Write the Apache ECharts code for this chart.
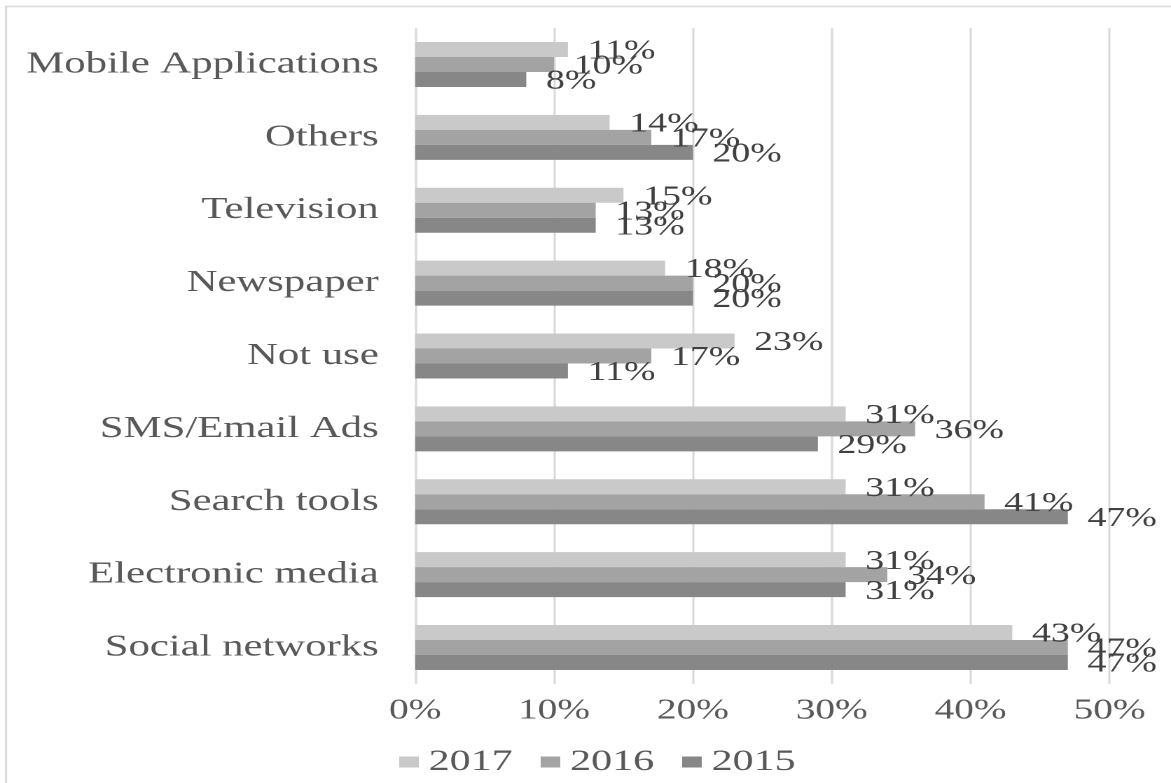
<!DOCTYPE html>
<html>
<head>
<meta charset="utf-8">
<script src="https://cdn.jsdelivr.net/npm/echarts@6/dist/echarts.min.js"></script>
<style>
  html, body { margin: 0; padding: 0; background: #ffffff; overflow: hidden; }
  #wrap { width: 1171px; height: 783px; overflow: hidden; }
  #chart { width: 836px; height: 783px; transform: scaleX(1.4007); transform-origin: 0 0; }
</style>
</head>
<body>
<div id="wrap"><div id="chart"></div></div>
<script>
const categories = ['Social networks', 'Electronic media', 'Search tools', 'SMS/Email Ads', 'Not use', 'Newspaper', 'Television', 'Others', 'Mobile Applications'];
const values2017 = [43, 31, 31, 31, 23, 18, 15, 14, 11];
const values2016 = [47, 34, 41, 36, 17, 20, 13, 17, 10];
const values2015 = [47, 31, 47, 29, 11, 20, 13, 20, 8];
const xTicks = [0, 10, 20, 30, 40, 50];

const FONT = 'Liberation Serif';
const chart = echarts.init(document.getElementById('chart'), null, { devicePixelRatio: 2 });

function barSeries(name, data, color) {
  return {
    name: name,
    type: 'bar',
    data: data,
    barWidth: 15,
    barGap: '0%',
    itemStyle: { color: color },
    label: {
      show: true,
      position: 'right',
      distance: 14,
      offset: [0, 2],
      formatter: '{c}%',
      color: '#404040',
      fontFamily: FONT,
      fontSize: 27
    },
    emphasis: { disabled: true }
  };
}

chart.setOption({
  animation: false,
  backgroundColor: '#ffffff',
  graphic: [{
    type: 'rect',
    shape: { x: 4.3, y: 6.5, width: 1000, height: 1000 },
    style: { fill: 'none', stroke: '#d9d9d9', lineWidth: 1.5 },
    silent: true
  }],
  grid: { left: 296.4, right: 43.9, top: 28, bottom: 99, containLabel: false },
  legend: {
    data: ['2017', '2016', '2015'],
    left: 280,
    top: 742,
    itemWidth: 14,
    itemHeight: 11,
    itemGap: 20,
    icon: 'rect',
    textStyle: { color: '#595959', fontFamily: FONT, fontSize: 30, padding: [0, 0, 0, 2] },
    selectedMode: false
  },
  xAxis: {
    type: 'value',
    min: xTicks[0],
    max: xTicks[xTicks.length - 1],
    interval: 10,
    axisLine: { show: false },
    axisTick: { show: false },
    splitLine: { show: true, lineStyle: { color: '#d9d9d9', width: 1.5 } },
    axisLabel: {
      formatter: '{value}%',
      color: '#595959',
      fontFamily: FONT,
      fontSize: 28,
      margin: 13
    }
  },
  yAxis: {
    type: 'category',
    data: categories,
    axisLine: { show: false },
    axisTick: { show: false },
    axisLabel: {
      color: '#595959',
      fontFamily: FONT,
      fontSize: 30.5,
      margin: 26
    }
  },
  series: [
    barSeries('2017', values2017, '#c9c9c9'),
    barSeries('2016', values2016, '#a3a3a3'),
    barSeries('2015', values2015, '#878787')
  ]
});
</script>
</body>
</html>
